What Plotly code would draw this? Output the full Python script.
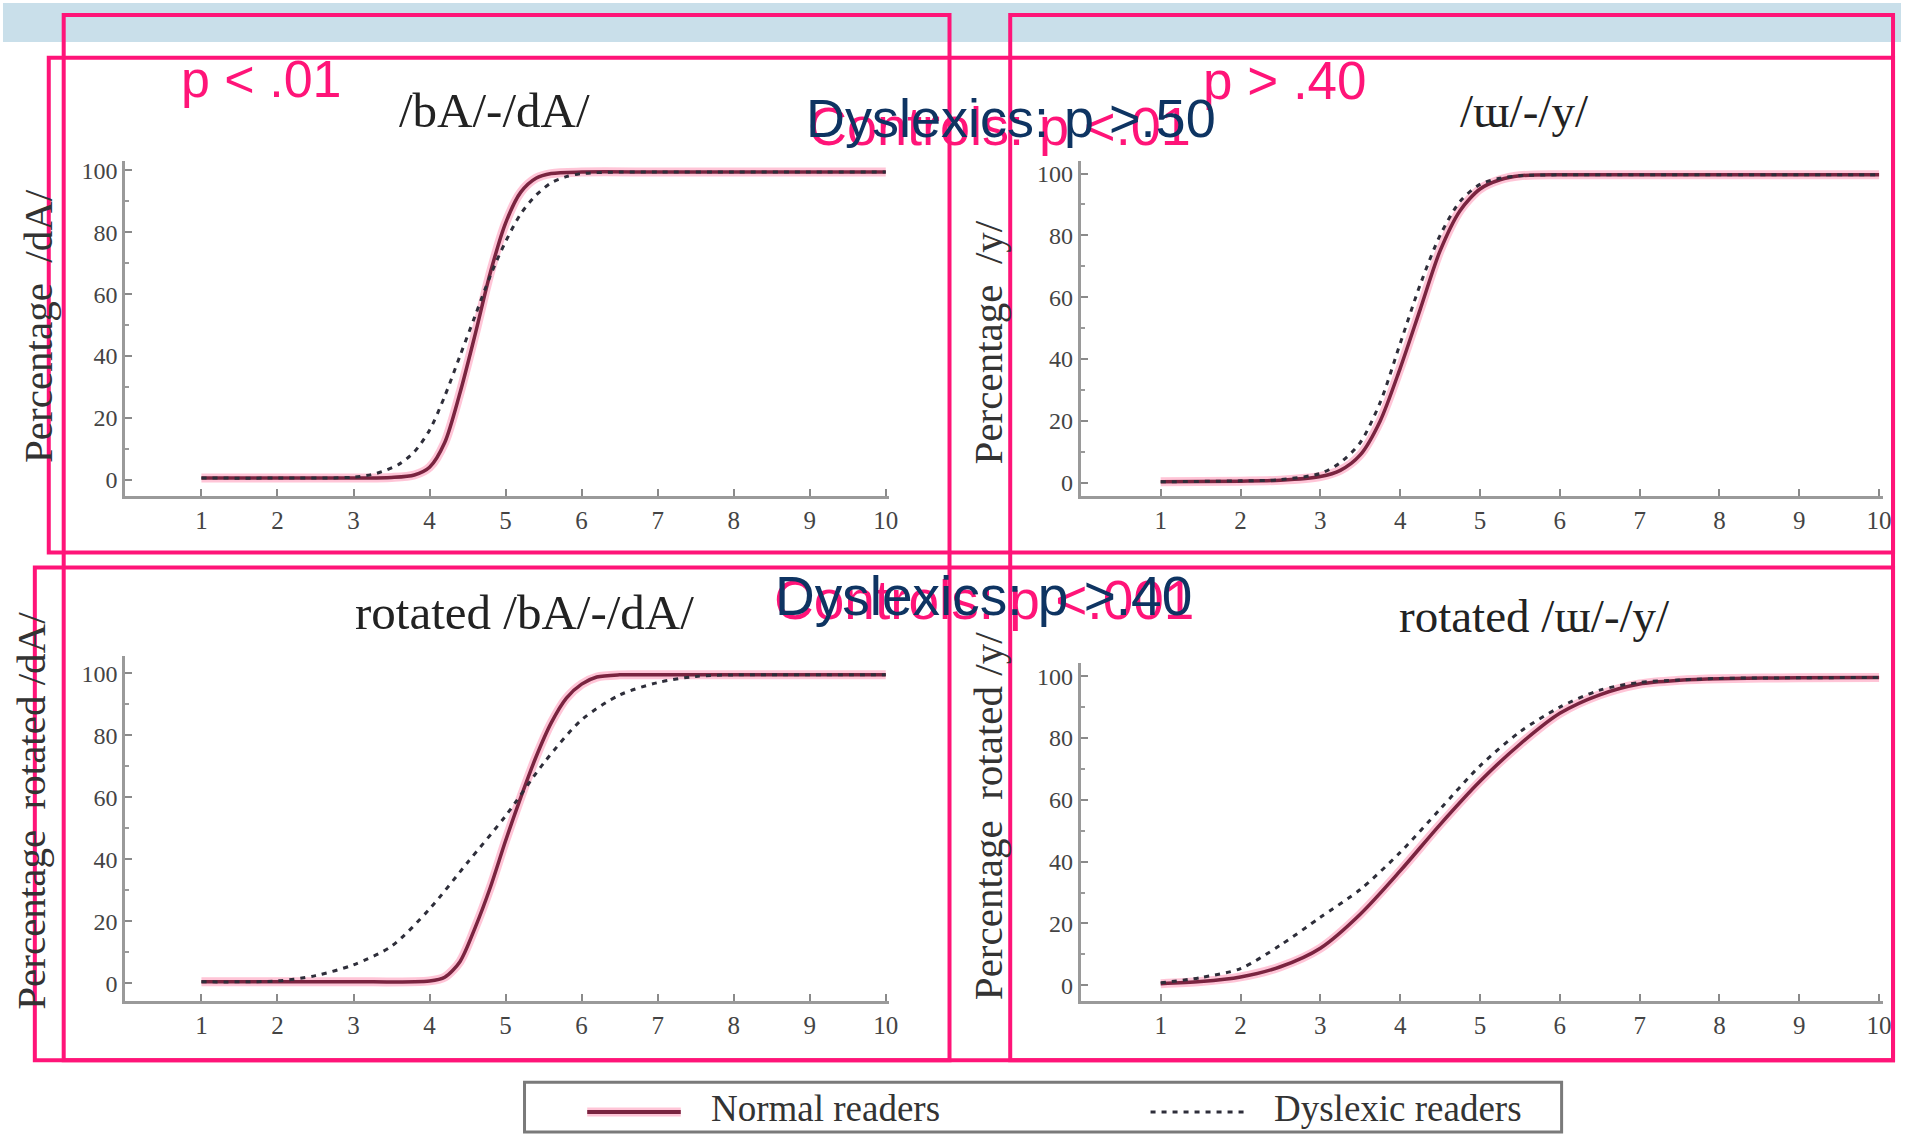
import plotly.graph_objects as go

W, H = 1910, 1136

# ---------------- data ----------------
panel_titles = ["/bA/-/dA/", "/ɯ/-/y/", "rotated /bA/-/dA/", "rotated /ɯ/-/y/"]
y_titles = ["Percentage  /dA/", "Percentage  /y/", "Percentage  rotated /dA/", "Percentage  rotated /y/"]
x_ticks = [1, 2, 3, 4, 5, 6, 7, 8, 9, 10]
y_ticks = [0, 20, 40, 60, 80, 100]
legend_labels = ["Normal readers", "Dyslexic readers"]

# /bA/-/dA/
x_bd_normal = [1, 2, 3, 3.5, 3.8, 4.0, 4.2, 4.4, 4.6, 4.8, 5.0, 5.2, 5.4, 5.6, 6, 7, 8, 9, 10]
y_bd_normal = [0.5, 0.5, 0.5, 0.7, 1.5, 4, 12, 28, 47, 67, 83, 93, 97.5, 99, 99.5, 99.5, 99.5, 99.5, 99.5]
x_bd_dys = [1, 2, 3.0, 3.3, 3.6, 3.8, 4.0, 4.2, 4.4, 4.6, 4.8, 5.0, 5.2, 5.4, 5.6, 5.8, 6.0, 6.5, 7, 8, 9, 10]
y_bd_dys = [0.5, 0.5, 0.8, 2, 5, 9, 16, 27, 40, 53, 66, 77, 86, 92, 96, 98, 99, 99.5, 99.5, 99.5, 99.5, 99.5]

# /u/-/y/
x_uy_normal = [1, 2, 2.5, 3.0, 3.25, 3.5, 3.75, 4.0, 4.25, 4.5, 4.75, 5.0, 5.25, 5.5, 6, 7, 8, 9, 10]
y_uy_normal = [0.3, 0.5, 0.8, 2, 4, 9, 20, 37, 56, 75, 88, 95, 98, 99.3, 99.6, 99.6, 99.6, 99.6, 99.6]
x_uy_dys = [1, 2, 2.5, 3.0, 3.25, 3.5, 3.75, 4.0, 4.25, 4.5, 4.75, 5.0, 5.25, 5.5, 6, 7, 8, 9, 10]
y_uy_dys = [0.3, 0.6, 1, 3, 6.5, 13, 26, 45, 64, 80, 91, 96.5, 98.5, 99.3, 99.6, 99.6, 99.6, 99.6, 99.6]

# rotated /bA/-/dA/
x_rbd_normal = [1, 2, 3, 4, 4.2, 4.4, 4.6, 4.8, 5.0, 5.2, 5.4, 5.6, 5.8, 6.0, 6.2, 6.5, 7, 8, 9, 10]
y_rbd_normal = [0.5, 0.5, 0.5, 0.8, 2, 7, 18, 31, 46, 60, 73, 84, 92, 96.5, 98.8, 99.5, 99.5, 99.5, 99.5, 99.5]
x_rbd_dys = [1, 2, 2.5, 3.0, 3.5, 4.0, 4.5, 5.0, 5.5, 6.0, 6.5, 7.0, 7.5, 8, 9, 10]
y_rbd_dys = [0.5, 0.8, 2.5, 6, 12, 24, 39, 54, 71, 85, 93, 97, 99, 99.5, 99.5, 99.5]

# rotated /u/-/y/
x_ruy_normal = [1, 1.5, 2, 2.5, 3, 3.5, 4, 4.5, 5, 5.5, 6, 6.5, 7, 7.5, 8, 9, 10]
y_ruy_normal = [0.5, 1.2, 2.7, 6, 12, 23, 37, 52, 66, 78, 88, 94, 97.5, 98.7, 99.2, 99.5, 99.6]
x_ruy_dys = [1, 1.5, 2, 2.5, 3, 3.5, 4, 4.5, 5, 5.5, 6, 6.5, 7, 7.5, 8, 9, 10]
y_ruy_dys = [0.8, 2.5, 5.4, 13, 22, 31, 43, 57, 71, 82, 90, 95.5, 98, 98.8, 99.3, 99.5, 99.6]

stat_texts_pink = ["p < .01", "p > .40", "Controls: p <.01", "Controls: p <.001"]
stat_texts_navy = ["Dyslexics: p >.50", "Dyslexics: p >.40"]

curves = [
    (x_bd_normal, y_bd_normal, x_bd_dys, y_bd_dys),
    (x_uy_normal, y_uy_normal, x_uy_dys, y_uy_dys),
    (x_rbd_normal, y_rbd_normal, x_rbd_dys, y_rbd_dys),
    (x_ruy_normal, y_ruy_normal, x_ruy_dys, y_ruy_dys),
]

# ---------------- layout geometry (pixels) ----------------
def PX(x):
    return x / W

def PY(y):
    return 1 - y / H

# (x_left, x_right, xrange_max, y_top, y_bottom, y_min, y_max)
panels = [
    (126, 893, 10.04, 158, 494, -5.2, 103.2),
    (1086, 1892, 10.05, 158, 494, -4.2, 104.2),
    (126, 893, 10.04, 655, 1001, -5.8, 105.5),
    (1086, 1892, 10.05, 662, 1001, -5.2, 104.2),
]
title_pos = [(497, 108), (1532, 108), (527, 611), (1542, 615)]
title_sizes = [49, 47, 49, 47]
ytitle_pos = [(38, 324), (993, 340), (31, 810), (993, 815)]

PINK = "#FF1478"
NAVY = "#0E3462"
MAROON = "#7A2440"
SERIF = "Liberation Serif, Times New Roman, serif"
SANS = "Liberation Sans, Arial, sans-serif"

fig = go.Figure()
layout = dict(
    width=W, height=H, margin=dict(l=0, r=0, t=0, b=0),
    paper_bgcolor="white", plot_bgcolor="white", showlegend=False,
)

for i, (xl, xr, xmax, yt, yb, ymin, ymax) in enumerate(panels):
    n = "" if i == 0 else str(i + 1)
    xa, ya = "x" + n, "y" + n
    layout["xaxis" + n] = dict(
        domain=[PX(xl), PX(xr)], range=[0, xmax], anchor=ya,
        showline=True, linecolor="#9a9a9a", linewidth=3,
        ticks="inside", ticklen=7, tickwidth=2, tickcolor="#8a8a8a",
        tickvals=x_ticks, showgrid=False, zeroline=False,
        tickfont=dict(family=SERIF, size=25, color="#444"),
    )
    layout["yaxis" + n] = dict(
        domain=[PY(yb), PY(yt)], range=[ymin, ymax], anchor=xa,
        showline=True, linecolor="#9a9a9a", linewidth=3,
        ticks="inside", ticklen=7, tickwidth=2, tickcolor="#8a8a8a",
        tickvals=y_ticks, showgrid=False, zeroline=False,
        minor=dict(dtick=10, tick0=0, ticks="inside", ticklen=4, tickcolor="#9a9a9a", tickwidth=2),
        tickfont=dict(family=SERIF, size=24, color="#444"),
    )
    xn, yn, xd, yd = curves[i]
    fig.add_trace(go.Scatter(x=xn, y=yn, xaxis=xa, yaxis=ya, mode="lines",
                             line=dict(color="rgba(255,90,140,0.35)", width=9, shape="spline", smoothing=0.8),
                             hoverinfo="skip"))
    fig.add_trace(go.Scatter(x=xn, y=yn, xaxis=xa, yaxis=ya, mode="lines", name=legend_labels[0],
                             line=dict(color=MAROON, width=3.5, shape="spline", smoothing=0.8)))
    fig.add_trace(go.Scatter(x=xd, y=yd, xaxis=xa, yaxis=ya, mode="lines", name=legend_labels[1],
                             line=dict(color="#2e2e3a", width=3, dash="5px,6px", shape="spline", smoothing=0.8)))

annotations = []
for i in range(4):
    tx, ty = title_pos[i]
    annotations.append(dict(x=PX(tx), y=PY(ty), xref="paper", yref="paper", text=panel_titles[i],
                            showarrow=False, xanchor="center", yanchor="middle",
                            font=dict(family=SERIF, size=title_sizes[i], color="#222")))
    yx, yy = ytitle_pos[i]
    annotations.append(dict(x=PX(yx), y=PY(yy), xref="paper", yref="paper", text=y_titles[i],
                            showarrow=False, xanchor="center", yanchor="middle", textangle=-90,
                            font=dict(family=SERIF, size=41, color="#333")))

# legend (drawn as a boxed key)
annotations.append(dict(x=PX(712), y=PY(1108), xref="paper", yref="paper", text=legend_labels[0],
                        showarrow=False, xanchor="left", yanchor="middle",
                        font=dict(family=SERIF, size=37, color="#333")))
annotations.append(dict(x=PX(1278), y=PY(1108), xref="paper", yref="paper", text=legend_labels[1],
                        showarrow=False, xanchor="left", yanchor="middle",
                        font=dict(family=SERIF, size=37, color="#333")))

# overlaid statistics text
pink_pos = [(180, 76, 52), (1207, 78, 53), (810, 123, 54), (776, 599, 55)]
for t, (x, y, s) in zip(stat_texts_pink, pink_pos):
    annotations.append(dict(x=PX(x), y=PY(y), xref="paper", yref="paper", text=t, showarrow=False,
                            xanchor="left", yanchor="middle", font=dict(family=SANS, size=s, color=PINK)))
navy_pos = [(808, 115, 54), (777, 595, 55)]
for t, (x, y, s) in zip(stat_texts_navy, navy_pos):
    annotations.append(dict(x=PX(x), y=PY(y), xref="paper", yref="paper", text=t, showarrow=False,
                            xanchor="left", yanchor="middle", font=dict(family=SANS, size=s, color=NAVY)))

shapes = []
# light blue band at top
shapes.append(dict(type="rect", xref="paper", yref="paper", x0=PX(3), x1=PX(1910), y0=PY(39), y1=PY(0),
                   fillcolor="#C9DFEA", line=dict(width=0), layer="below"))
# legend box and keys
shapes.append(dict(type="rect", xref="paper", yref="paper", x0=PX(527), x1=PX(1569), y0=PY(1132), y1=PY(1082),
                   line=dict(color="#7a7a7a", width=3), fillcolor="rgba(0,0,0,0)"))
shapes.append(dict(type="line", xref="paper", yref="paper", x0=PX(590), x1=PX(684), y0=PY(1112), y1=PY(1112),
                   line=dict(color="rgba(255,90,140,0.35)", width=9)))
shapes.append(dict(type="line", xref="paper", yref="paper", x0=PX(590), x1=PX(684), y0=PY(1112), y1=PY(1112),
                   line=dict(color=MAROON, width=4)))
shapes.append(dict(type="line", xref="paper", yref="paper", x0=PX(1156), x1=PX(1254), y0=PY(1112), y1=PY(1112),
                   line=dict(color="#2e2e3a", width=3, dash="5px,6px")))
# pink highlight rectangles
pink_rects = [(64, 12, 954, 1060), (1015, 12, 1902, 1060), (49, 55, 1902, 551), (35, 566, 1902, 1060)]
for (x0, y0, x1, y1) in pink_rects:
    shapes.append(dict(type="rect", xref="paper", yref="paper", x0=PX(x0), x1=PX(x1), y0=PY(y1), y1=PY(y0),
                       line=dict(color=PINK, width=4), fillcolor="rgba(0,0,0,0)", layer="above"))

layout["annotations"] = annotations
layout["shapes"] = shapes
fig.update_layout(**layout)
fig.write_html("out.html")
